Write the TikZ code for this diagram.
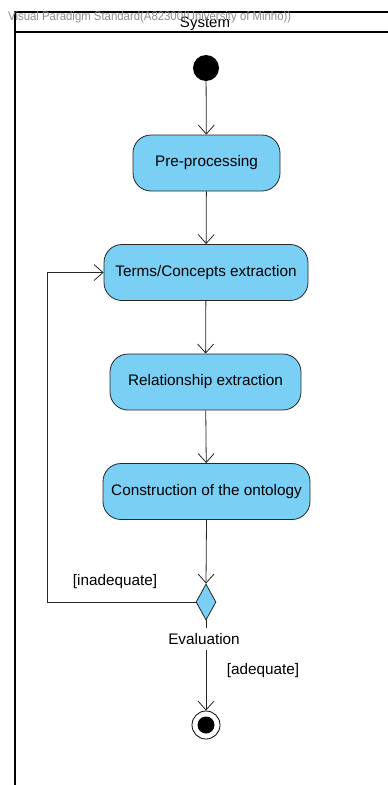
\documentclass[tikz,border=0pt]{standalone}
\usepackage{fontspec}
\setmainfont{Liberation Sans}
\usetikzlibrary{arrows.meta,shapes.geometric}
\definecolor{actfill}{RGB}{122,207,245}
\begin{document}
\begin{tikzpicture}[x=1pt,y=-1pt,
  action/.style={draw=black!85,fill=actfill,rounded corners=18pt,line width=0.8pt,
    minimum height=56pt,inner sep=0pt,font=\fontsize{15.3}{18}\selectfont},
  flow/.style={draw=black!85,line width=0.8pt,-{Straight Barb[length=9pt,width=16pt,line width=0.8pt]}},
  guard/.style={font=\fontsize{15.3}{18}\selectfont}]
\useasboundingbox (0,0) rectangle (388,785);
% swimlane frame
\draw[line width=1.6pt] (15,785) -- (15,12) -- (388,12);
\draw[line width=1.2pt] (15,32) -- (388,32);
\node[font=\fontsize{15}{18}\selectfont] (lane) at (205,24) {System};
\node[anchor=west,text=black!45,font=\fontsize{12.5}{14}\selectfont,xscale=0.91] (wm) at (5,17)
  {Visual Paradigm Standard(A82300(University of Minho))};
% nodes
\node[circle,fill=black,minimum size=26pt,inner sep=0pt] (start) at (206,68) {};
\node[action,minimum width=147pt] (pre) at (206.5,163) {Pre-processing};
\node[action,minimum width=204pt] (terms) at (206,272.5) {Terms/Concepts extraction};
\node[action,minimum width=191pt] (rel) at (205.5,382) {Relationship extraction};
\node[action,minimum width=207pt] (cons) at (206.5,491.5) {Construction of the ontology};
\node[diamond,draw=black!85,fill=actfill,line width=0.8pt,minimum width=20pt,minimum height=36pt,
  inner sep=0pt,aspect=0.55] (eval) at (206,602) {};
\node[guard] (evallbl) at (204,639) {Evaluation};
\node[circle,draw=black,line width=0.8pt,minimum size=28pt,inner sep=0pt] (final) at (206,725) {};
\node[circle,fill=black,minimum size=17pt,inner sep=0pt] (finalin) at (206,725) {};
% flows
\draw[flow] (start) -- (pre);
\draw[flow] (pre) -- (terms);
\draw[flow] (terms) -- (rel);
\draw[flow] (rel) -- (cons);
\draw[flow] (cons.south) -- (eval.north);
\coordinate (la) at (47,602);
\coordinate (lb) at (47,272.5);
\draw[flow] (eval.west) -- (la) -- (lb) -- (terms.west);
\draw[draw=black!85,line width=0.8pt] (eval.south) -- (206,628);
\draw[flow] (206,650) -- (final.north);
\node[guard] (inad) at (115,582) {[inadequate]};
\node[guard] (adeq) at (263,671) {[adequate]};
\end{tikzpicture}
\end{document}
